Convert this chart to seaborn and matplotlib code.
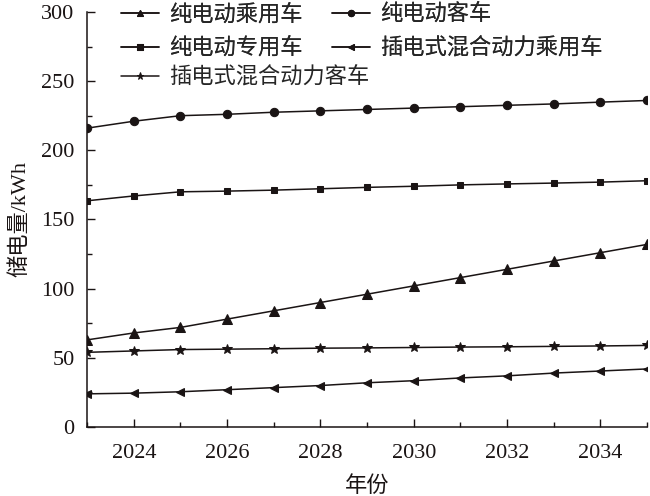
import numpy as np
import pandas as pd
import matplotlib
matplotlib.use("Agg")
import matplotlib.pyplot as plt
import seaborn as sns
from matplotlib.ticker import MultipleLocator

years = list(range(2023, 2036))
bev_car = [63, 68, 72, 78, 84, 90, 96, 102, 108, 114, 120, 126, 132]
bev_bus = [216, 221, 225, 226, 227.5, 228.5, 229.5, 230.5, 231.5, 232.5, 233.5, 234.8, 236]
bev_special = [163.5, 167, 170, 170.5, 171.2, 172.2, 173.2, 174, 175, 175.7, 176.3, 177, 178]
phev_car = [24, 24.5, 25.5, 27, 28.5, 30, 32, 33.5, 35.5, 37, 39, 40.5, 42]
phev_bus = [54, 55, 56, 56.3, 56.6, 57, 57.2, 57.5, 57.8, 58, 58.3, 58.6, 59]

names = ["纯电动乘用车", "纯电动客车", "纯电动专用车", "插电式混合动力乘用车", "插电式混合动力客车"]
series = [bev_car, bev_bus, bev_special, phev_car, phev_bus]
markers = ["^", "o", "s", "<", "*"]
msizes = [6.5, 6, 5, 6, 7]

ink = "#1a1414"

sns.set_style("ticks")
plt.rcParams["font.family"] = ["Liberation Serif", "Noto Sans CJK SC"]
plt.rcParams["axes.unicode_minus"] = False

fig = plt.figure(figsize=(6.5, 4.96), dpi=100)
ax = fig.add_axes([0.134, 0.139, 0.8615, 0.837])

for name, vals, m, ms in zip(names, series, markers, msizes):
    df = pd.DataFrame({"year": years, "value": vals})
    sns.lineplot(data=df, x="year", y="value", ax=ax, color=ink,
                 marker=m, markersize=ms, linewidth=1.1,
                 markeredgecolor=ink, label=name)

h, l = ax.get_legend_handles_labels()
ax.get_legend().remove()

ax.set_xlim(2023, 2035)
ax.set_ylim(0, 300)
ax.set_xticks(range(2024, 2036, 2))
ax.xaxis.set_minor_locator(MultipleLocator(1))
ax.yaxis.set_major_locator(MultipleLocator(50))
ax.yaxis.set_minor_locator(MultipleLocator(25))
ax.tick_params(which="both", direction="in", labelsize=16, color=ink,
               labelcolor=ink)
ax.tick_params(axis="x", pad=12)
ax.tick_params(axis="y", pad=9)
ax.tick_params(which="major", length=6, width=1)
ax.tick_params(which="minor", length=3.5, width=1)
sns.despine(ax=ax)
for sp in ax.spines.values():
    sp.set_color(ink)
    sp.set_linewidth(1.1)
ax.set_xlabel("年份", fontsize=16, color=ink, labelpad=10)
ax.set_ylabel("储电量/kWh", fontsize=16, color=ink, labelpad=8)

# first two rows, two columns
order = [0, 2, 1, 3]
leg1 = fig.legend([h[i] for i in order], [l[i] for i in order], ncol=2,
                  frameon=False, loc="upper left",
                  bbox_to_anchor=(0.186, 0.99), fontsize=16,
                  borderpad=0, borderaxespad=0,
                  handlelength=1.7, handletextpad=0.45,
                  columnspacing=1.35, labelspacing=0.55, markerscale=0.75)
leg2 = fig.legend([h[4]], [l[4]], frameon=False, loc="upper left",
                  bbox_to_anchor=(0.186, 0.865), fontsize=16,
                  borderpad=0, borderaxespad=0,
                  handlelength=1.7, handletextpad=0.45, markerscale=0.75)
fig.add_artist(leg1)

fig.savefig("out.png", dpi=100)
